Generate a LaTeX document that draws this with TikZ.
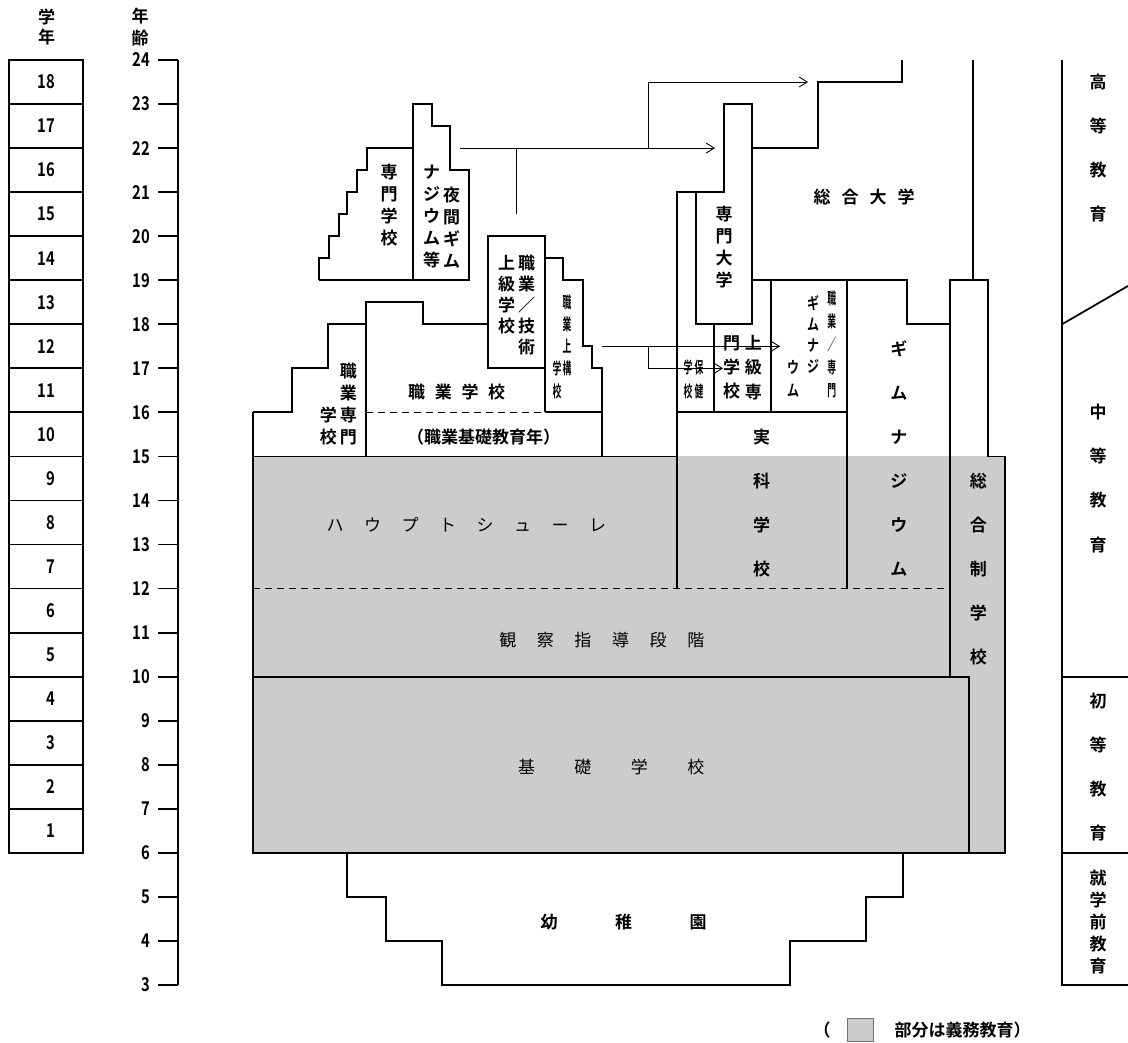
\documentclass[tikz,border=0pt]{standalone}
\usepackage{fontspec}
\setmainfont{Noto Sans CJK JP Bold}
\newfontfamily\thinjp{Noto Sans CJK JP}
\newfontfamily\numjp[FakeStretch=0.78]{Noto Sans CJK JP Bold}
\newfontfamily\slimjp[FakeStretch=0.55]{Noto Sans CJK JP Bold}
\newfontfamily\semijp[FakeStretch=0.75]{Noto Sans CJK JP Bold}
\usepackage{tikz}
\usetikzlibrary{arrows.meta,positioning}

\begin{document}
\begin{tikzpicture}[x=1pt, y=44.05pt,
  wall/.style={line width=1.8pt},
  fine/.style={line width=0.9pt},
  flow/.style={fine, -{Straight Barb[length=8pt,width=10pt]}},
  sep/.style={fine, dash pattern=on 7pt off 5pt},
  lbl/.style={inner sep=0pt, align=center, font=\fontsize{17}{22}\selectfont},
  plain/.style={lbl, font=\thinjp\fontsize{17}{22}\selectfont},
  num/.style={inner sep=0pt, font=\numjp\fontsize{19}{20}\selectfont},
  tall/.style={lbl, font=\fontsize{17}{44.05}\selectfont},
  slim/.style={lbl, font=\slimjp\fontsize{16}{22}\selectfont},
  semi/.style={lbl, font=\semijp\fontsize{16}{21}\selectfont}]
  \useasboundingbox (0,1.685) rectangle (1128,25.362);
  \fill[black!20] (253,6) rectangle (1005,15);

  \node[lbl, font=\fontsize{17}{20}\selectfont] (hdgrade) at (46.7,24.756) {学\\年};
  \node[lbl] (hdage) at (140,24.738) {年\\齢};
  \foreach \g in {1,...,18}{
    \draw[wall] (9,5+\g) rectangle (83,6+\g);
    \node[num, anchor=east] (grade\g) at (55.5,5.5+\g) {\g};
  }
  \draw[wall] (178,3) -- (178,24);
  \foreach \a in {3,...,24}{
    \draw[wall] (158,\a) -- (178,\a);
    \node[num, anchor=east] (age\a) at (150,\a) {\a};
  }

  \draw[wall] (253,16) -- (253,6) -- (1005,6) -- (1005,15) -- (988,15) -- (988,19) -- (950,19) -- (950,10);
  \draw[wall] (253,10) -- (969,10) -- (969,6);
  \draw[sep] (253,12) -- (950,12);
  \draw[wall] (253,15) -- (677,15);
  \draw[wall] (677,12) -- (677,21) -- (724,21) -- (724,23) -- (751.7,23) -- (751.7,18) -- (695.7,18) -- (695.7,21);
  \draw[wall] (846.7,12) -- (846.7,19);
  \draw[wall] (677,16) -- (846.7,16);
  \draw[wall] (714,16) -- (714,18);
  \draw[wall] (770.7,16) -- (770.7,19);
  \draw[wall] (751.7,19) -- (907,19) -- (907,18) -- (950,18);
  \draw[wall] (751.7,22) -- (818,22) -- (818,23.5) -- (902,23.5) -- (902,24);
  \draw[wall] (973,19) -- (973,24);

  \draw[wall] (253,16) -- (291.7,16) -- (291.7,17) -- (328.3,17) -- (328.3,18) -- (366,18) -- (366,18.5) -- (422.7,18.5) -- (422.7,18) -- (487.7,18);
  \draw[wall] (366,15) -- (366,18);
  \draw[sep] (366,16) -- (545,16);
  \draw[wall] (545,16) -- (601.7,16);
  \draw[wall] (487.7,17) rectangle (545,20);
  \draw[wall] (545,16) -- (545,19.5) -- (563.3,19.5) -- (563.3,19) -- (582.7,19) -- (582.7,17.5) -- (591.7,17.5) -- (591.7,17) -- (601.7,17) -- (601.7,15);

  \draw[wall] (319,19) -- (319,19.5) -- (329.3,19.5) -- (329.3,20) -- (339,20) -- (339,20.5) -- (347.3,20.5) -- (347.3,21) -- (357.3,21) -- (357.3,21.5) -- (366.7,21.5) -- (366.7,22) -- (412.7,22);
  \draw[wall] (319,19) -- (469.3,19) -- (469.3,21.5) -- (450,21.5) -- (450,22.5) -- (431.7,22.5) -- (431.7,23) -- (412.7,23) -- (412.7,19);

  \draw[wall] (347,6) -- (347,5) -- (386,5) -- (386,4) -- (442,4) -- (442,3) -- (790,3) -- (790,4) -- (866,4) -- (866,5) -- (903,5) -- (903,6);

  \draw[wall] (1062,24) -- (1062,3) -- (1128,3);
  \draw[wall] (1062,6) -- (1128,6);
  \draw[wall] (1062,10) -- (1128,10);
  \draw[wall] (1062,18) -- (1128,18.87);

  \coordinate (ngym) at (460,22);
  \coordinate (fhtip) at (715,22);
  \coordinate (bosup) at (516.7,20.5);
  \coordinate (bosjoin) at (516.7,22);
  \coordinate (split) at (648.7,22);
  \coordinate (unitip) at (808,23.5);
  \coordinate (bas) at (601.7,17.5);
  \coordinate (fork) at (648.7,17.5);
  \coordinate (fgtip) at (780,17.5);
  \coordinate (fostip) at (723,17);
  \draw[flow] (ngym) -- (fhtip);
  \draw[fine] (bosup) -- (bosjoin);
  \draw[flow] (split) |- (unitip);
  \draw[flow] (bas) -- (fgtip);
  \draw[flow] (fork) |- (fostip);

  \node[lbl] (uni) at (864,20.89) {総\hspace{11pt}合\hspace{11pt}大\hspace{11pt}学};
  \node[lbl] (fh) at (724,19.76) {専\\門\\大\\学};
  \node[lbl] (fs) at (389,20.70) {専\\門\\学\\校};
  \node[lbl] (agym1) at (451.7,20.20) {夜\\間\\ギ\\ム};
  \node[lbl] (agym2) at (431.7,20.44) {ナ\\ジ\\ウ\\ム\\等};
  \node[lbl, font=\fontsize{17}{21}\selectfont] (bos1) at (526.7,18.44) {職\\業\\／\\技\\術};
  \node[lbl, font=\fontsize{17}{21}\selectfont] (bos2) at (506.7,18.67) {上\\級\\学\\校};
  \node[slim] (bas1) at (567,17.75) {職\\業\\上\\構};
  \node[slim, font=\slimjp\fontsize{16}{23.5}\selectfont] (bas2) at (557,16.74) {学\\校};
  \node[lbl] (bfs1) at (348.3,16.2) {職\\業\\専\\門};
  \node[lbl] (bfs2) at (328.3,15.69) {学\\校};
  \node[lbl] (bs) at (456.7,16.47) {職\hspace{9.7pt}業\hspace{9.7pt}学\hspace{9.7pt}校};
  \node[lbl] (bgj) at (483.7,15.45) {（職業基礎教育年）};
  \node[slim, font=\slimjp\fontsize{16}{24}\selectfont] (hlth1) at (699,16.75) {保\\健};
  \node[slim, font=\slimjp\fontsize{16}{24}\selectfont] (hlth2) at (688,16.75) {学\\校};
  \node[lbl, font=\fontsize{17}{24.3}\selectfont] (fos1) at (753.3,17.02) {上\\級\\専};
  \node[lbl, font=\fontsize{17}{24.3}\selectfont] (fos2) at (731.7,17.02) {門\\学\\校};
  \node[slim, font=\slimjp\fontsize{16}{23}\selectfont] (bg1) at (831.7,17.55) {職\\業\\／\\専\\門};
  \node[semi] (bg2) at (813,17.76) {ギ\\ム\\ナ\\ジ};
  \node[semi, font=\semijp\fontsize{16}{23}\selectfont] (bg3) at (793,16.77) {ウ\\ム};

  \node[tall] (rs) at (761.5,13.94) {実\\科\\学\\校};
  \node[tall] (gym) at (898.8,14.96) {ギ\\ム\\ナ\\ジ\\ウ\\ム};
  \node[tall] (ges) at (978.4,12.44) {総\\合\\制\\学\\校};
  \node[plain] (hs) at (466.4,13.44) {ハ\hspace{20.5pt}ウ\hspace{20.5pt}プ\hspace{20.5pt}ト\hspace{20.5pt}シ\hspace{20.5pt}ュ\hspace{20.5pt}ー\hspace{20.5pt}レ};
  \node[plain] (os) at (601.8,10.83) {観\hspace{20.6pt}察\hspace{20.6pt}指\hspace{20.6pt}導\hspace{20.6pt}段\hspace{20.6pt}階};
  \node[plain] (gs) at (611.2,7.95) {基\hspace{39.4pt}礎\hspace{39.4pt}学\hspace{39.4pt}校};
  \node[lbl] (kg) at (623.6,4.43) {幼\hspace{57.6pt}稚\hspace{57.6pt}園};

  \node[tall] (tert) at (1098,22) {高\\等\\教\\育};
  \node[tall] (sec) at (1098,14.5) {中\\等\\教\\育};
  \node[tall] (prim) at (1098,7.94) {初\\等\\教\\育};
  \node[lbl] (pre) at (1098,4.43) {就\\学\\前\\教\\育};

  \node[draw=black!55, fill=black!20, line width=0.6pt, inner sep=0pt, minimum width=26pt, minimum height=22.5pt] (legbox) at (860,1.98) {};
  \node[lbl, left=16pt of legbox] (legopen) {（};
  \node[lbl, right=21pt of legbox] (legtext) {部分は義務教育）};
\end{tikzpicture}
\end{document}
